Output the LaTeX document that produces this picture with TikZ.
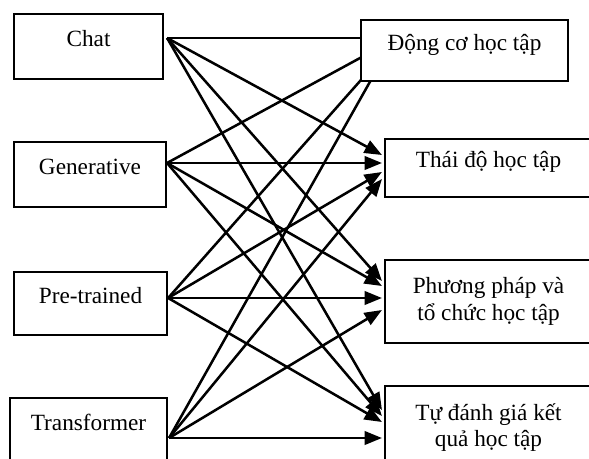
\documentclass[tikz,border=0pt]{standalone}
\usepackage{fontspec}
\setmainfont{Liberation Serif}
\usetikzlibrary{arrows.meta}
\usetikzlibrary{calc}
\usetikzlibrary{backgrounds}

\begin{document}
\begin{tikzpicture}[x=0.516pt, y=-0.516pt,
  lbox/.style={draw, line width=1.1pt, fill=white, inner sep=0pt, align=center,
    font=\fontsize{12}{13.8}\selectfont},
  onebox/.style={lbox, text height=1.5ex, text depth=1.5ex},
  rbox/.style={lbox, minimum width=106.8pt},
  arr/.style={line width=1.3pt, -{Triangle[length=9pt,width=7pt]}}]

 \useasboundingbox (0,0) rectangle (589,459);
 \clip (0,0) rectangle (589,459);

 %left column
 \node[onebox, minimum width=76.9pt, minimum height=33.5pt] (L1) at (88.5,46.5) {Chat};
 \node[onebox, minimum width=78.4pt, minimum height=33.5pt] (L2) at (90,174.5) {Generative};
 \node[onebox, minimum width=79pt, minimum height=32.5pt] (L3) at (90.5,303.5) {Pre-trained};
 \node[onebox, minimum width=81pt, minimum height=33.5pt] (L4) at (88.5,430.5) {Transformer};

 %right column
 \node[rbox, onebox, minimum height=31.5pt] (R1) at (464.5,50.5) {Động cơ học tập};
 \node[rbox, onebox, minimum height=29.9pt] (R2) at (488.5,168) {Thái độ học tập};
 \node[rbox, minimum height=42.8pt] (R3) at (488.5,301.5) {Phương pháp và\\tổ chức học tập};
 \node[rbox, minimum height=42.8pt] (R4) at (488.5,427.5) {Tự đánh giá kết\\quả học tập};

 %start points
 \coordinate (S1) at ($(L1.east)+(3,-8.5)$);
 \coordinate (S2) at ($(L2.east)+(0,-11.5)$);
 \coordinate (S3) at ($(L3.east)+(0,-5.5)$);
 \coordinate (S4) at ($(L4.east)+(1,7.5)$);

 \begin{scope}[on background layer]
 %arrows (heads of the first box lie under it)
 \foreach \s/\dy in {1/-12.5, 2/-5.5, 3/3.5, 4/6.5}
   \draw[arr] (S\s) -- ($(R1.west)+(24,\dy)$);

 \foreach \s/\dy in {1/-13, 2/-5, 3/4, 4/11}
   \draw[arr] (S\s) -- ($(R2.west)+(-2,\dy)$);

 \foreach \s/\dy in {1/-20.5, 2/-15.5, 3/-3.5, 4/8.5}
   \draw[arr] (S\s) -- ($(R3.west)+(-2,\dy)$);

 \foreach \s/\dy in {1/-17.5, 2/-11.5, 3/-5.5, 4/10.5}
   \draw[arr] (S\s) -- ($(R4.west)+(-2,\dy)$);
 \end{scope}

\end{tikzpicture}
\end{document}
